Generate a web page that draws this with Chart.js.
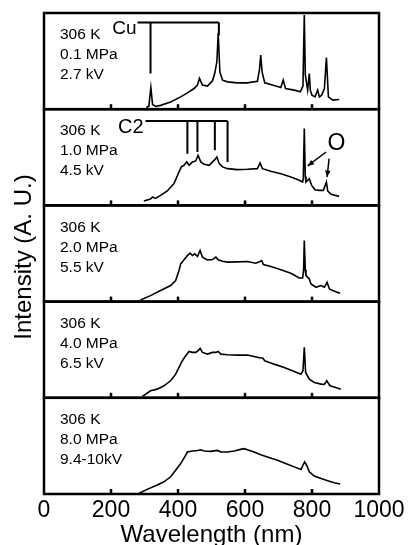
<!DOCTYPE html>
<html>
<head>
<meta charset="utf-8">
<script src="https://cdn.jsdelivr.net/npm/chart.js@4.4.1/dist/chart.umd.min.js"></script>
<style>
  html, body { margin: 0; padding: 0; background: #fff; }
</style>
</head>
<body>
<canvas id="spectraChart" width="412" height="545"></canvas>
<script>
// wavelength (nm) and intensity (% of panel height) for each pressure
var nm01 = [305, 313, 319, 324, 333, 348, 378, 408, 428, 448, 458, 464, 473, 488, 503, 510, 516, 520, 525, 533, 548, 577, 607, 637, 643, 647, 651, 659, 687, 707, 714, 721, 747, 765, 773, 777, 780, 787, 792, 795, 800, 809, 817, 822, 829, 837, 843, 849, 862, 881];
var int01 = [2, 3, 22.5, 5, 3, 4, 7.6, 12.8, 17, 21.5, 25, 32, 25, 24, 29.5, 37.8, 49.3, 79, 38.8, 30.2, 28.4, 27.4, 27.4, 29.1, 40.6, 56.2, 38.8, 27.4, 24.6, 22.5, 30.2, 21.5, 19.8, 18, 24, 98, 36, 19.8, 37, 19.8, 14.6, 12.8, 19.8, 12.8, 14.6, 21.5, 53.8, 12.8, 9.4, 10.1];

var nm10 = [298, 318, 324, 333, 348, 368, 388, 403, 410, 418, 426, 433, 443, 453, 460, 468, 478, 493, 503, 510, 516, 523, 533, 548, 577, 607, 637, 645, 652, 677, 707, 737, 762, 772, 774, 777, 780, 782, 792, 799, 809, 822, 834, 843, 847, 857, 881];
var int10 = [4.5, 6.6, 8.7, 7.3, 10.4, 15, 22.6, 34.7, 40, 41.7, 45.2, 41.7, 45.2, 46.2, 52.1, 45.2, 42.7, 41.7, 45.2, 47.6, 50.4, 43.4, 40, 38.2, 37.2, 37.5, 38.2, 44.1, 38.2, 35.4, 33, 29.5, 26.1, 24.3, 28, 80, 30, 24.3, 27.8, 20.8, 16.3, 15.6, 15.6, 24.3, 14.9, 11.5, 9.4];

var nm20 = [288, 318, 348, 378, 393, 403, 408, 418, 428, 436, 443, 450, 458, 466, 473, 488, 503, 513, 520, 533, 548, 578, 607, 632, 645, 650, 655, 677, 707, 737, 762, 772, 775, 777, 780, 782, 792, 797, 812, 827, 837, 845, 852, 867, 884];
var int20 = [1.7, 6.2, 11.5, 16.7, 21.9, 32.3, 39.2, 43.4, 47.9, 50.3, 47.9, 49.6, 46.9, 53.1, 46.2, 43.4, 43.7, 46.2, 43.4, 42, 41, 41.3, 41.7, 39.9, 41.7, 42.7, 38.5, 36.4, 33, 29.5, 24.6, 24.6, 33, 63.5, 33, 27, 23.6, 18.4, 14.9, 16.7, 14.9, 20.1, 13.2, 10.8, 8.7];

var nm40 = [293, 318, 338, 358, 378, 393, 403, 413, 423, 433, 443, 453, 460, 466, 473, 488, 503, 513, 520, 528, 548, 577, 607, 627, 647, 653, 659, 687, 717, 747, 767, 773, 777, 781, 792, 807, 827, 837, 844, 854, 871, 886];
var int40 = [1.3, 7.3, 9, 12.5, 17.7, 24.6, 31.6, 38.5, 43.7, 48.2, 47.2, 47.2, 48.9, 51.3, 47.2, 45.4, 47.2, 47.2, 48.2, 45.4, 44.8, 44.4, 44.4, 43, 41.3, 41.3, 38.5, 35, 31.6, 27.4, 24.6, 28.1, 52.4, 26.4, 19.4, 16, 14.2, 14, 17.7, 12.5, 10.8, 9];

var nm80 = [284, 308, 338, 358, 378, 393, 408, 420, 428, 443, 458, 468, 478, 498, 518, 528, 548, 568, 587, 597, 607, 627, 647, 667, 697, 727, 747, 767, 773, 778, 784, 792, 807, 827, 847, 866, 884];
var int80 = [0.7, 4.8, 9.3, 12.7, 17.9, 24.7, 31.6, 38.5, 43.6, 44.7, 45.3, 46, 44.7, 44.3, 45.3, 43.6, 43.6, 44.7, 46.4, 47.1, 46, 43.6, 40.9, 38.5, 35, 30.9, 28.2, 25.4, 29.9, 33.3, 29.9, 23, 18.6, 16.1, 13.8, 11.7, 10.3];

var xTickValues = [200, 400, 600, 800];
var panelTemp = "306 K";
var pressures = ["0.1 MPa", "1.0 MPa", "2.0 MPa", "4.0 MPa", "8.0 MPa"];
var voltages = ["2.7 kV", "4.5 kV", "5.5 kV", "6.5 kV", "9.4-10kV"];

// emission line markers
var cuLines = [318, 522];
var cuLineEnds = [37, 77];
var c2Lines = [428, 458, 510, 548];
var c2LineEnds = [53.8, 55.6, 57.3, 45.1];

var panelAxes = ["y1", "y2", "y3", "y4", "y5"];
var FONT = '"Liberation Sans", Arial, Helvetica, sans-serif';

function toPoints(xs, ys) {
  return xs.map(function (x, i) { return { x: x, y: ys[i] }; });
}

function spectrum(xs, ys, axis) {
  return {
    data: toPoints(xs, ys),
    yAxisID: axis,
    borderColor: "#000",
    borderWidth: 1.6,
    pointRadius: 0,
    fill: false,
    tension: 0,
  };
}

function panelAxis() {
  return {
    type: "linear",
    position: "left",
    stack: "panels",
    stackWeight: 1,
    min: 0,
    max: 100,
    ticks: { display: false },
    grid: { display: false, drawTicks: false },
    border: { display: false },
    afterFit: function (s) { s.width = 0; },
  };
}

function arrow(ctx, x0, y0, x1, y1) {
  var a = Math.atan2(y1 - y0, x1 - x0);
  ctx.beginPath();
  ctx.moveTo(x0, y0);
  ctx.lineTo(x1, y1);
  ctx.stroke();
  ctx.beginPath();
  ctx.moveTo(x1, y1);
  ctx.lineTo(x1 - 7 * Math.cos(a - 0.4), y1 - 7 * Math.sin(a - 0.4));
  ctx.lineTo(x1 - 7 * Math.cos(a + 0.4), y1 - 7 * Math.sin(a + 0.4));
  ctx.closePath();
  ctx.fill();
}

// frames, inner ticks, panel labels and line markers
var panelDecor = {
  id: "panelDecor",
  afterDatasetsDraw: function (chart) {
    var ctx = chart.ctx;
    var xs = chart.scales.x;
    var area = chart.chartArea;
    var X = function (v) { return xs.getPixelForValue(v); };
    ctx.save();
    ctx.strokeStyle = "#000";
    ctx.fillStyle = "#000";

    panelAxes.forEach(function (id, i) {
      var ys = chart.scales[id];
      ctx.lineWidth = 2.5;
      ctx.strokeRect(area.left, ys.top, area.right - area.left, ys.bottom - ys.top);
      xTickValues.forEach(function (v) {
        ctx.beginPath();
        ctx.moveTo(X(v), ys.bottom);
        ctx.lineTo(X(v), ys.bottom - 5);
        ctx.stroke();
      });
      ctx.font = "15.5px " + FONT;
      ctx.textAlign = "left";
      ctx.textBaseline = "middle";
      [panelTemp, pressures[i], voltages[i]].forEach(function (t, k) {
        ctx.fillText(t, area.left + 16, ys.top + 22 + k * 20);
      });
    });

    // Cu lines (top panel)
    var y1 = chart.scales.y1;
    var cuTop = y1.getPixelForValue(90);
    ctx.lineWidth = 2;
    ctx.beginPath();
    ctx.moveTo(X(279), cuTop);
    ctx.lineTo(X(cuLines[1]), cuTop);
    cuLines.forEach(function (v, k) {
      ctx.moveTo(X(v), cuTop);
      ctx.lineTo(X(v), y1.getPixelForValue(cuLineEnds[k]));
    });
    ctx.stroke();
    ctx.font = "19px " + FONT;
    ctx.textAlign = "right";
    ctx.textBaseline = "alphabetic";
    ctx.fillText("Cu", X(279) - 1, cuTop + 11.5);

    // C2 Swan band heads (second panel)
    var y2 = chart.scales.y2;
    var c2Top = y2.getPixelForValue(87.8);
    ctx.beginPath();
    ctx.moveTo(X(303), c2Top);
    ctx.lineTo(X(c2Lines[3]), c2Top);
    c2Lines.forEach(function (v, k) {
      ctx.moveTo(X(v), c2Top);
      ctx.lineTo(X(v), y2.getPixelForValue(c2LineEnds[k]));
    });
    ctx.stroke();
    ctx.font = "20px " + FONT;
    ctx.fillText("C2", X(303) - 2, c2Top + 12.5);

    // O lines
    ctx.font = "23px " + FONT;
    ctx.textAlign = "center";
    ctx.textBaseline = "middle";
    ctx.fillText("O", X(873), y2.getPixelForValue(64));
    ctx.lineWidth = 1.5;
    arrow(ctx, X(842), y2.getPixelForValue(55.5), X(787), y2.getPixelForValue(41));
    arrow(ctx, X(851), y2.getPixelForValue(48.6), X(845), y2.getPixelForValue(29.5));

    // shared y title
    ctx.translate(24.5, 257);
    ctx.rotate(-Math.PI / 2);
    ctx.font = "24px " + FONT;
    ctx.fillText("Intensity (A. U.)", 0, 0);
    ctx.restore();
  },
};

Chart.defaults.font.family = FONT;
Chart.defaults.color = "#000";

var spectraCtx = document.getElementById("spectraChart").getContext("2d");
var spectraChart = new Chart(spectraCtx, {
  type: "line",
  data: {
    datasets: [
      spectrum(nm01, int01, "y1"),
      spectrum(nm10, int10, "y2"),
      spectrum(nm20, int20, "y3"),
      spectrum(nm40, int40, "y4"),
      spectrum(nm80, int80, "y5"),
    ],
  },
  options: {
    responsive: false,
    animation: false,
    events: [],
    layout: { padding: { left: 44, right: 33, top: 13, bottom: 0 } },
    plugins: { legend: { display: false }, tooltip: { enabled: false } },
    scales: {
      x: {
        type: "linear",
        min: 0,
        max: 1000,
        ticks: {
          stepSize: 200,
          font: { size: 23 },
          padding: 3,
          color: "#000",
          callback: function (v) { return String(v); },
        },
        grid: { display: false, drawTicks: false },
        border: { display: false },
        title: {
          display: true,
          text: "Wavelength (nm)",
          font: { size: 24, lineHeight: 1 },
          padding: { top: 0, bottom: -2 },
        },
        afterFit: function (s) { s.height = 51; },
      },
      // later axes stack on top
      y5: panelAxis(),
      y4: panelAxis(),
      y3: panelAxis(),
      y2: panelAxis(),
      y1: panelAxis(),
    },
  },
  plugins: [panelDecor],
});
</script>
</body>
</html>
